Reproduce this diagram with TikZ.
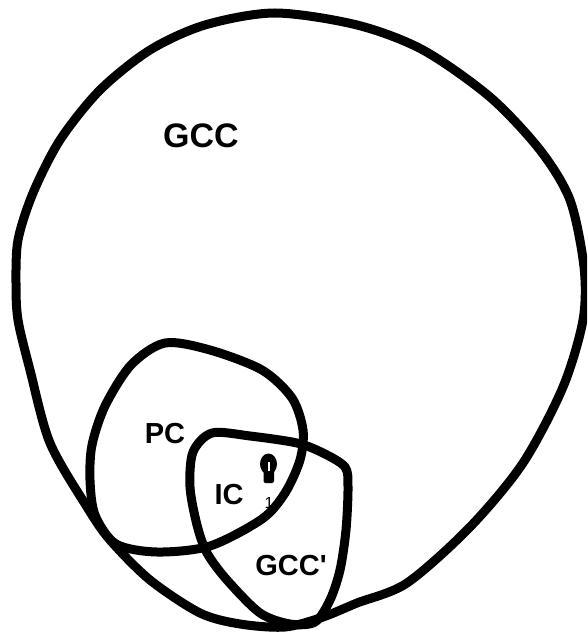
\documentclass[tikz,border=0pt]{standalone}
\usepackage{fontspec}
\setmainfont{Liberation Sans}
\usepackage{tikz}
\usetikzlibrary{positioning}

\begin{document}
\begin{tikzpicture}[x=1pt,y=-1pt,
    region/.style={line width=9pt,line join=round},
    lbl/.style={inner sep=0pt,font=\bfseries\fontsize{29}{29}\selectfont},
    biglbl/.style={lbl,font=\bfseries\fontsize{34}{34}\selectfont}]
    \clip (0,0) rectangle (587,636);
    % labels
    \node[biglbl] (gcc)  at (201,135.5) {GCC};
    \node[lbl]    (pc)   at (165,434)   {PC};
    \node[lbl]    (ic)   at (229,495)   {IC};
    \node[lbl]    (gccp) at (291,565.5) {GCC\textquotesingle};
    \node[inner sep=0pt,font=\fontsize{16}{16}\selectfont] (one) at (269,503) {1};
    % small mark above the 1
    \fill (268.5,464) ellipse (8.5pt and 10.5pt);
    \fill[rounded corners=2pt] (263.5,468) rectangle (274,483);
    \draw[white,line width=1.3pt] (269,462) -- (269,471);
    % GCC
    \draw[region] plot[smooth cycle] coordinates {
        (275,13) (357,25) (423,50) (490,97) (540,150) (570,200) (584,267)
        (583,320) (563,387) (523,463) (470,527) (407,583) (357,603)
        (323,617) (285,627) (240,624) (200,613) (150,580) (110,540)
        (87,507) (50,443) (30,370) (18,320) (16,283) (18,240) (33,193)
        (60,140) (100,90) (150,50) (205,25)};
    % PC
    \draw[region] plot[smooth cycle] coordinates {
        (165,343) (210,350) (262,370) (292,398) (303,430) (300,460)
        (285,493) (262,519) (210,546) (157,552) (116,544) (95,515)
        (90,480) (92,445) (105,406) (131,365)};
    % GCC'
    \draw[region] plot[smooth cycle, tension=0.5] coordinates {
        (212,433) (250,436) (297,443) (323,453) (345,467) (348,487)
        (346,530) (340,570) (330,600) (315,622) (290,624) (260,613)
        (227,580) (207,553) (197,525) (190,487) (193,452)};
\end{tikzpicture}
\end{document}
